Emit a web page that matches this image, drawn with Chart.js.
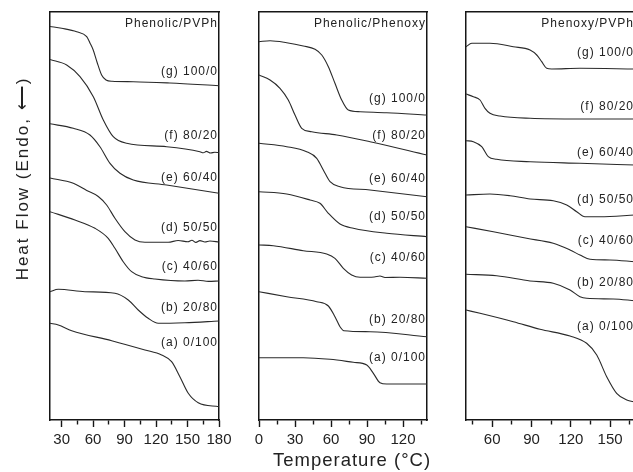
<!DOCTYPE html>
<html>
<head>
<meta charset="utf-8">
<script src="https://cdn.jsdelivr.net/npm/chart.js@4.4.1/dist/chart.umd.min.js"></script>
<style>
  html, body { margin: 0; padding: 0; width: 633px; height: 472px; overflow: hidden; background: #fff; }
  .panel { position: absolute; top: 0; }
  .axis-title { position: absolute; font-family: 'Liberation Sans', Arial, sans-serif; color: #222; white-space: nowrap; line-height: 1; }
  #ytitle { font-size: 17px; letter-spacing: 2px; width: 213px; text-align: center; left: -84px; top: 169.5px; transform: rotate(-90deg); }
  #xtitle { font-size: 18.5px; letter-spacing: 1px; left: 273px; top: 451px; }
</style>
</head>
<body>
<div class="panel" style="left:0px"><canvas id="c1" width="236" height="472"></canvas></div>
<div class="panel" style="left:236px"><canvas id="c2" width="210" height="472"></canvas></div>
<div class="panel" style="left:446px"><canvas id="c3" width="204" height="472"></canvas></div>
<div class="axis-title" id="ytitle">Heat Flow (Endo, ⟵)</div>
<div class="axis-title" id="xtitle">Temperature (°C)</div>
<script>
// DSC traces: [temperature (°C), heat flow (arb. units, stacked)]
var seriesNames = ["(a) 0/100", "(b) 20/80", "(c) 40/60", "(d) 50/50", "(e) 60/40", "(f) 80/20", "(g) 100/0"];
var panelTitles = ["Phenolic/PVPh", "Phenolic/Phenoxy", "Phenoxy/PVPh"];

// Phenolic/PVPh
var pvph_a = [[18.9,9.67],[26.8,9.5],[39.6,8.93],[77.7,7.93],[109.4,7.0],[125.3,6.5],[134.8,5.83],[142.7,4.33],[150.7,2.67],[160.2,1.73],[180,1.33]];
var pvph_b = [[18.9,12.83],[26.8,13.07],[52.2,12.83],[80.8,12.67],[93.5,12.0],[103,11.0],[112.5,10.17],[122.1,9.67],[147.5,9.73],[180,9.9]];
var pvph_c = [[18.9,20.83],[42.7,20.0],[61.8,19.17],[74.4,18.17],[80.8,17.17],[88.7,15.83],[96.7,14.83],[106.3,14.33],[118.9,14.1],[147.5,13.9],[160,13.98],[170,13.86],[180,13.9]];
var pvph_d = [[18.9,24.2],[41.1,23.67],[53.9,22.95],[64.9,22.35],[72.9,21.5],[80.8,20.17],[90.3,18.83],[99.9,18.0],[109.4,17.77],[131.6,17.77],[141.1,17.95],[150.4,17.82],[154.2,17.98],[158,17.76],[161.8,17.94],[166.6,17.8],[171.3,17.9],[180,17.8]];
var pvph_e = [[18.9,29.62],[41.1,29.17],[57.0,28.5],[66.5,27.33],[76.1,25.67],[85.6,24.67],[98.3,24.0],[130.1,23.5],[180,22.67]];
var pvph_f = [[18.9,36.05],[34.8,35.5],[47.5,34.33],[60.2,32.33],[69.7,30.0],[79.2,28.33],[92.0,27.67],[130.1,27.33],[161.8,26.83],[165,26.72],[168,26.86],[172,26.7],[176,26.78],[180,26.73]];
var pvph_g = [[18.9,39.35],[30,39.17],[44.3,38.83],[53.9,38.33],[57.0,37.7],[60.1,37.0],[63.7,35.8],[68.1,34.5],[72.3,34.0],[78,33.87],[98.3,33.83],[133.2,33.7],[180,33.43]];

// Phenolic/Phenoxy
var phx_a = [[0,6.23],[36.9,6.23],[59.2,6.07],[78.6,5.77],[89.8,5.5],[95.3,4.67],[100.8,3.73],[106.4,3.6],[140,3.6]];
var phx_b = [[0,12.83],[23.1,12.33],[48.1,11.83],[57.8,11.4],[63.3,10.33],[67.5,9.33],[70.8,8.93],[92.5,8.83],[140,8.33]];
var phx_c = [[0,17.5],[11.9,17.43],[36.9,16.93],[56.4,16.6],[63.3,16.17],[70.3,15.17],[77.2,14.5],[84.2,14.27],[96,14.3],[100.8,14.4],[105,14.25],[117.5,14.27],[140,14.17]];
var phx_d = [[0,22.83],[23.1,22.6],[42.5,22.0],[50.8,21.67],[57.8,20.67],[67.5,19.6],[78.6,19.17],[106.4,18.67],[140,18.33]];
var phx_e = [[0,27.67],[23.1,27.33],[39.7,26.83],[48.1,26.17],[53.6,25.0],[59.2,23.83],[67.5,23.33],[92.5,23.0],[140,22.33]];
var phx_f = [[0,34.5],[9.2,34.0],[17.5,33.17],[24.4,32.0],[30,30.5],[35.6,29.17],[43.9,28.83],[64.8,28.5],[92.5,27.83],[140,26.5]];
var phx_g = [[0,37.83],[9.2,37.93],[23.1,37.73],[36.9,37.4],[46.7,37.07],[52.3,36.5],[57.8,35.33],[63.3,33.67],[68.9,32.0],[74.4,31.0],[84.2,30.83],[106.4,30.73],[140,30.5]];

// Phenoxy/PVPh
var phxpvph_a = [[40,11.0],[50.7,10.67],[76.1,9.83],[96.5,9.07],[119.4,8.4],[132.1,7.67],[139.8,6.5],[147.4,4.33],[155,2.67],[162.7,2.0],[169,1.8]];
var phxpvph_b = [[40,14.57],[63.4,14.43],[88.9,13.9],[106.6,13.67],[119.4,13.0],[127,12.33],[132.1,12.17],[152.4,12.1],[169,11.93]];
var phxpvph_c = [[40,19.33],[60.9,18.83],[86.3,18.17],[106.6,17.67],[119.4,17.0],[127,16.5],[134.7,16.07],[149.9,16.0],[169,15.83]];
var phxpvph_d = [[40,22.5],[58.3,22.6],[73.6,22.43],[88.9,22.1],[106.6,21.93],[116.9,21.5],[124.5,20.83],[130.8,20.33],[142.3,20.33],[169,20.5]];
var phxpvph_e = [[40,27.93],[45.6,27.83],[52,27.33],[57,26.33],[63.4,26.07],[88.9,25.83],[127,25.67],[169,25.5]];
var phxpvph_f = [[40,32.6],[45.6,32.33],[50.7,32.0],[54.5,31.17],[58.3,30.67],[66,30.4],[88.9,30.17],[127,30.1],[169,30.1]];
var phxpvph_g = [[40,37.33],[44.4,37.67],[58.3,37.67],[76.1,37.33],[88.9,37.0],[94.0,36.5],[97.8,35.83],[101.6,35.17],[105.4,35.1],[127,35.17],[169,35.1]];

// where each curve name sits (heat flow units), a..g
var pvphLabelAt = [7.7, 11.2, 15.3, 19.2, 24.2, 28.4, 34.8];
var phxLabelAt = [6.2, 10.0, 16.2, 20.3, 24.1, 28.4, 32.1];
var phxpvphLabelAt = [9.3, 13.7, 17.9, 22.0, 26.7, 31.3, 36.7];
var titleAt = 39.6;

var lineColor = '#2a2a2a';
var frameColor = '#161616';
var tickFont = { family: "'Liberation Sans', Arial, sans-serif", size: 15 };

function labelPlugin(title, levels) {
  return {
    id: 'curveLabels',
    afterDatasetsDraw: function (chart) {
      var ctx = chart.ctx, area = chart.chartArea, y = chart.scales.y;
      ctx.save();
      ctx.font = "12px 'Liberation Sans', Arial, sans-serif";
      ctx.letterSpacing = '1px';
      ctx.fillStyle = '#222';
      ctx.textAlign = 'right';
      ctx.textBaseline = 'middle';
      var x = area.right - 1;
      ctx.fillText(title, x, y.getPixelForValue(titleAt));
      for (var i = 0; i < seriesNames.length; i++) {
        ctx.fillText(seriesNames[i], x, y.getPixelForValue(levels[i]));
      }
      ctx.restore();
    }
  };
}

function buildPanel(id, title, curves, levels, xMin, xMax, leftW, rightPad) {
  var datasets = curves.map(function (pts, i) {
    return {
      label: seriesNames[i],
      data: pts,
      borderColor: lineColor,
      borderWidth: 1.1,
      pointRadius: 0,
      fill: false,
      cubicInterpolationMode: 'monotone'
    };
  });
  var frame = { display: true, color: frameColor, width: 1.5 };
  return new Chart(document.getElementById(id), {
    type: 'line',
    data: { datasets: datasets },
    options: {
      responsive: false,
      animation: false,
      events: [],
      layout: { padding: { top: 12, right: rightPad, left: 0, bottom: 0 } },
      plugins: { legend: { display: false }, tooltip: { enabled: false } },
      scales: {
        x: {
          type: 'linear', position: 'bottom', min: xMin, max: xMax,
          border: frame,
          grid: {
            drawOnChartArea: false, drawTicks: true, tickLength: 7, tickWidth: 1.4, tickColor: frameColor,
            tickBorderDash: function (c) { return (c.tick && c.tick.value % 30 !== 0) ? [4, 10] : []; }
          },
          ticks: {
            stepSize: 15, includeBounds: false, autoSkip: false, maxRotation: 0, padding: 4,
            color: '#222', font: tickFont,
            callback: function (v) { return v % 30 === 0 ? v : ''; }
          },
          afterFit: function (s) { s.height = 52; }
        },
        xTop: {
          type: 'linear', position: 'top', min: xMin, max: xMax,
          border: frame, grid: { display: false }, ticks: { display: false },
          afterFit: function (s) { s.height = 0; }
        },
        y: {
          type: 'linear', position: 'left', min: 0, max: 40.8,
          border: frame, grid: { display: false }, ticks: { display: false },
          afterFit: function (s) { s.width = leftW; }
        },
        yRight: {
          type: 'linear', position: 'right', min: 0, max: 40.8,
          border: frame, grid: { display: false }, ticks: { display: false },
          afterFit: function (s) { s.width = 0; }
        }
      }
    },
    plugins: [labelPlugin(title, levels)]
  });
}

buildPanel('c1', panelTitles[0], [pvph_a, pvph_b, pvph_c, pvph_d, pvph_e, pvph_f, pvph_g], pvphLabelAt, 18.9, 180, 50, 17);
buildPanel('c2', panelTitles[1], [phx_a, phx_b, phx_c, phx_d, phx_e, phx_f, phx_g], phxLabelAt, 0, 140, 23, 19);
buildPanel('c3', panelTitles[2], [phxpvph_a, phxpvph_b, phxpvph_c, phxpvph_d, phxpvph_e, phxpvph_f, phxpvph_g], phxpvphLabelAt, 40, 169, 20, 15);
</script>
</body>
</html>
